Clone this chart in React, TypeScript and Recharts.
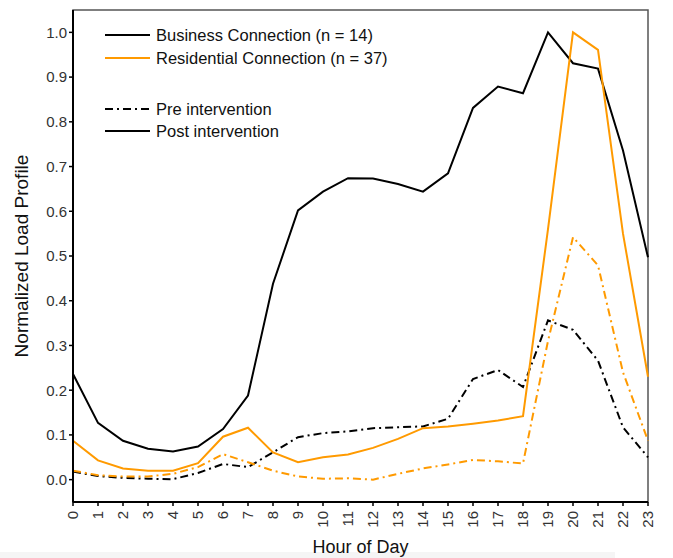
import React from "react";
import {
  LineChart, Line, XAxis, YAxis, ReferenceArea, Legend
} from "recharts";

const hours = [0, 1, 2, 3, 4, 5, 6, 7, 8, 9, 10, 11, 12, 13, 14, 15, 16, 17, 18, 19, 20, 21, 22, 23];

const businessPost = [0.236, 0.127, 0.087, 0.069, 0.063, 0.074, 0.113, 0.188, 0.438, 0.602, 0.644, 0.674,
  0.673, 0.661, 0.644, 0.685, 0.831, 0.879, 0.864, 1.0, 0.931, 0.919, 0.736, 0.497];
const residentialPost = [0.087, 0.043, 0.025, 0.02, 0.02, 0.037, 0.096, 0.116, 0.061, 0.039, 0.05, 0.056,
  0.071, 0.091, 0.115, 0.119, 0.125, 0.132, 0.142, 0.56, 1.0, 0.961, 0.55, 0.23];
const businessPre = [0.018, 0.008, 0.004, 0.002, 0.001, 0.015, 0.035, 0.028, 0.061, 0.095, 0.104, 0.108,
  0.115, 0.117, 0.119, 0.136, 0.225, 0.245, 0.207, 0.356, 0.335, 0.266, 0.117, 0.05];
const residentialPre = [0.02, 0.01, 0.007, 0.007, 0.013, 0.028, 0.057, 0.039, 0.02, 0.007, 0.002, 0.003,
  0.0, 0.013, 0.025, 0.034, 0.044, 0.041, 0.036, 0.31, 0.542, 0.479, 0.24, 0.087];

const yTicks = [0, 0.1, 0.2, 0.3, 0.4, 0.5, 0.6, 0.7, 0.8, 0.9, 1.0];

const BLACK = "#000000";
const ORANGE = "#FF9A00";
const DASH_DOT = "8 4 2 4";
const FONT = "'Liberation Sans', Arial, Helvetica, sans-serif";

const chartData = hours.map((h, i) => ({
  hour: h,
  businessPost: businessPost[i],
  residentialPost: residentialPost[i],
  businessPre: businessPre[i],
  residentialPre: residentialPre[i],
}));

const legendRows = [
  { label: "Business Connection (n = 14)", color: BLACK, dash: undefined, y: 35 },
  { label: "Residential Connection (n = 37)", color: ORANGE, dash: undefined, y: 58 },
  { label: "Pre intervention", color: BLACK, dash: DASH_DOT, y: 109 },
  { label: "Post intervention", color: BLACK, dash: undefined, y: 131 },
];

const HourTick = (props: any) => {
  const { x, y, payload } = props;
  return (
    <text
      x={0}
      y={0}
      transform={`translate(${x + 5},${y + 3}) rotate(-90)`}
      textAnchor="end"
      fontSize={15}
      fill="#333"
      fontFamily={FONT}
    >
      {payload.value}
    </text>
  );
};

const ChartLegend = () => (
  <svg width={673} height={150} style={{ position: "absolute", left: 0, top: 0 }}>
    {legendRows.map((r) => (
      <g key={r.label}>
        <line x1={105} x2={150} y1={r.y} y2={r.y} stroke={r.color} strokeWidth={2} strokeDasharray={r.dash} />
        <text x={156} y={r.y + 6} fontSize={16.5} fill="#111" fontFamily={FONT}>{r.label}</text>
      </g>
    ))}
  </svg>
);

export default function App() {
  return (
    <div style={{ position: "absolute", left: 0, top: 0, width: 673, height: 558, background: "#fff" }}>
      <div style={{ position: "absolute", left: 0, top: 552, width: 615, height: 6, background: "#f5f5f5" }} />
      <LineChart
        width={673}
        height={558}
        data={chartData}
        margin={{ top: 10, right: 25, bottom: 11, left: 0 }}
        style={{ fontFamily: FONT }}
      >
        <ReferenceArea
          x1={0} x2={23} y1={-0.05} y2={1.05}
          fill="none" stroke="#555" strokeWidth={1.5} ifOverflow="visible"
        />
        <XAxis
          dataKey="hour"
          type="number"
          domain={[0, 23]}
          ticks={hours}
          interval={0}
          height={45}
          tick={<HourTick />}
          tickSize={4}
          axisLine={{ stroke: BLACK, strokeWidth: 2 }}
          tickLine={{ stroke: BLACK, strokeWidth: 1.5 }}
          label={{ value: "Hour of Day", position: "insideBottom", offset: -6, fontSize: 18, fill: "#111" }}
        />
        <YAxis
          type="number"
          domain={[-0.05, 1.05]}
          ticks={yTicks}
          interval={0}
          width={73}
          tickSize={4}
          tickFormatter={(v: number) => v.toFixed(1)}
          tick={{ fontSize: 15, fill: "#333" }}
          axisLine={{ stroke: BLACK, strokeWidth: 2 }}
          tickLine={{ stroke: BLACK, strokeWidth: 1.5 }}
          label={{ value: "Normalized Load Profile", angle: -90, position: "insideLeft", offset: 21, fontSize: 19, fill: "#111", style: { textAnchor: "middle" } }}
        />
        <Legend content={() => null} />
        <Line dataKey="businessPre" stroke={BLACK} strokeWidth={2} strokeDasharray={DASH_DOT} dot={false} isAnimationActive={false} />
        <Line dataKey="residentialPre" stroke={ORANGE} strokeWidth={2} strokeDasharray={DASH_DOT} dot={false} isAnimationActive={false} />
        <Line dataKey="businessPost" stroke={BLACK} strokeWidth={2} dot={false} isAnimationActive={false} />
        <Line dataKey="residentialPost" stroke={ORANGE} strokeWidth={2} dot={false} isAnimationActive={false} />
      </LineChart>
      <ChartLegend />
    </div>
  );
}
